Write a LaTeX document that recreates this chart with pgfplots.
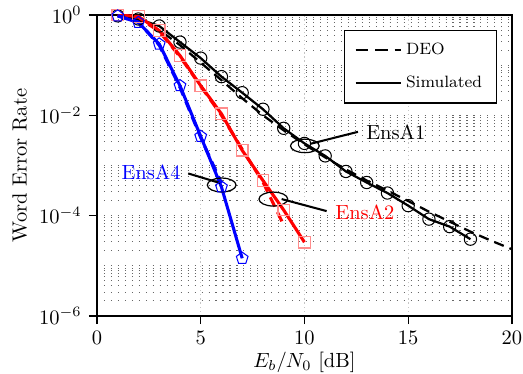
\documentclass[border=0pt]{standalone}
\usepackage{pgfplots}
\pgfplotsset{compat=1.18}
\begin{document}
\begin{tikzpicture}
\begin{axis}[
  scale only axis, width=202.4pt, height=146.8pt,
  ymode=log, xmin=0, xmax=20, ymin=1e-6, ymax=1,
  xtick={0,5,10,15,20}, ytick={1e-6,1e-4,1e-2,1},
  minor ytick={2e-6,3e-6,4e-6,5e-6,6e-6,7e-6,8e-6,9e-6,1e-5,
    2e-5,3e-5,4e-5,5e-5,6e-5,7e-5,8e-5,9e-5,
    2e-4,3e-4,4e-4,5e-4,6e-4,7e-4,8e-4,9e-4,1e-3,
    2e-3,3e-3,4e-3,5e-3,6e-3,7e-3,8e-3,9e-3,
    2e-2,3e-2,4e-2,5e-2,6e-2,7e-2,8e-2,9e-2,1e-1,
    2e-1,3e-1,4e-1,5e-1,6e-1,7e-1,8e-1,9e-1},
  xmajorgrids, ymajorgrids, yminorgrids,
  major x grid style={gray!45, dash pattern=on 0.6pt off 1.4pt},
  major y grid style={black!60, dash pattern=on 0.55pt off 2.85pt},
  minor y grid style={black!60, dash pattern=on 0.55pt off 2.85pt},
  tick align=outside, tick pos=left,
  major tick length=4pt, minor tick length=0pt,
  axis line style={line width=0.9pt},
  tick style={line width=0.6pt, black},
  xlabel={$E_b/N_0$ [dB]}, ylabel={Word Error Rate},
  xlabel style={yshift=3pt},
  ylabel style={yshift=-1pt},
  legend style={at={(0.964,0.95)}, anchor=north east, font=\footnotesize,
    inner xsep=5pt, inner ysep=4pt, row sep=5pt, semithick, legend cell align=left},
  legend image code/.code={\draw[#1] (0pt,0pt) -- (22pt,0pt);},
]
\coordinate (sw) at (rel axis cs:0,0);
\coordinate (ne) at (rel axis cs:1,1);
\addlegendimage{black, line width=1.1pt, dash pattern=on 6pt off 3.5pt}
\addlegendentry{DEO}
\addlegendimage{black, line width=1.1pt}
\addlegendentry{Simulated}

% EnsA1 DEO
\addplot[black, line width=1.1pt, dash pattern=on 5pt off 3pt, forget plot] coordinates {
(1,0.955) (2,0.794) (3,0.501) (4,0.251) (5,0.112) (6,0.0501) (7,0.0219) (8,0.0100)
(9,0.00501) (10,0.00263) (11,0.00145) (12,8.32e-4) (13,5.01e-4) (14,3.16e-4)
(15,1.95e-4) (16,1.20e-4) (17,7.59e-5) (18,4.79e-5) (19,3.16e-5) (20,2.14e-5)};
% EnsA1 simulated
\addplot[black, line width=1.1pt, mark=o, mark size=3pt, mark options={solid, fill=white, line width=0.5pt}, forget plot] coordinates {
(1,0.96) (2,0.832) (3,0.603) (4,0.288) (5,0.138) (6,0.0589) (7,0.0282) (8,0.0132)
(9,0.00550) (10,0.00275) (11,0.00155) (12,7.59e-4) (13,4.57e-4) (14,2.82e-4)
(15,1.58e-4) (16,8.51e-5) (17,6.03e-5) (18,3.39e-5)};

% EnsA2 DEO
\addplot[red, line width=1.5pt, dash pattern=on 5pt off 3pt, forget plot] coordinates {
(1,0.99) (2,0.90) (3,0.47) (4,0.148) (5,0.038) (6,0.0100) (7,0.0021) (8,4.68e-4) (9,6.46e-5)};
% EnsA2 simulated
\addplot[red, line width=1.5pt, mark=square, mark size=2.8pt, mark options={solid, draw=red!45, fill=white, line width=0.6pt}, forget plot] coordinates {
(1,0.995) (2,0.933) (3,0.490) (4,0.155) (5,0.0389) (6,0.0107) (7,0.00200) (8,5.01e-4) (9,1.29e-4) (10,2.95e-5)};

% EnsA4 DEO
\addplot[blue, line width=1.5pt, dash pattern=on 5pt off 3pt, forget plot] coordinates {
(1,0.97) (2,0.72) (3,0.25) (4,0.036) (5,0.0036) (6,4.47e-4)};
% EnsA4 simulated
\addplot[blue, line width=1.5pt, mark=pentagon, mark size=3pt, mark options={solid, draw=blue, fill=white, line width=0.5pt}, forget plot] coordinates {
(1,0.955) (2,0.708) (3,0.263) (4,0.0389) (5,0.00380) (6,3.72e-4) (7,1.41e-5)};

% annotations
\draw[black, line width=0.6pt] (axis cs:10.02,0.0024547) ellipse [x radius=7pt, y radius=3.3pt];
\draw[black, line width=1pt] (axis cs:10.27,0.0026915) -- (axis cs:12.58,0.0046774);
\node[anchor=west, inner sep=0pt, font=\normalsize] at (axis cs:12.96,0.0046774) {EnsA1};

\draw[black, line width=0.6pt] (axis cs:8.5,0.00021380) ellipse [x radius=7pt, y radius=3.4pt];
\draw[black, line width=1pt] (axis cs:8.9,0.00021380) -- (axis cs:11.07,0.00012303);
\node[anchor=west, inner sep=0pt, red, font=\normalsize] at (axis cs:11.47,0.00011482) {EnsA2};

\draw[black, line width=0.6pt] (axis cs:6.01,0.00040738) ellipse [x radius=7pt, y radius=3.4pt];
\draw[black, line width=1pt] (axis cs:5.93,0.00044668) -- (axis cs:4.40,0.00069183);
\node[anchor=east, inner sep=0pt, blue, font=\normalsize] at (axis cs:4.05,0.00074131) {EnsA4};
\end{axis}
\pgfresetboundingbox
\path ([shift={(-47.3pt,-28.3pt)}]sw) rectangle ([shift={(5.4pt,7.3pt)}]ne);
\end{tikzpicture}
\end{document}
